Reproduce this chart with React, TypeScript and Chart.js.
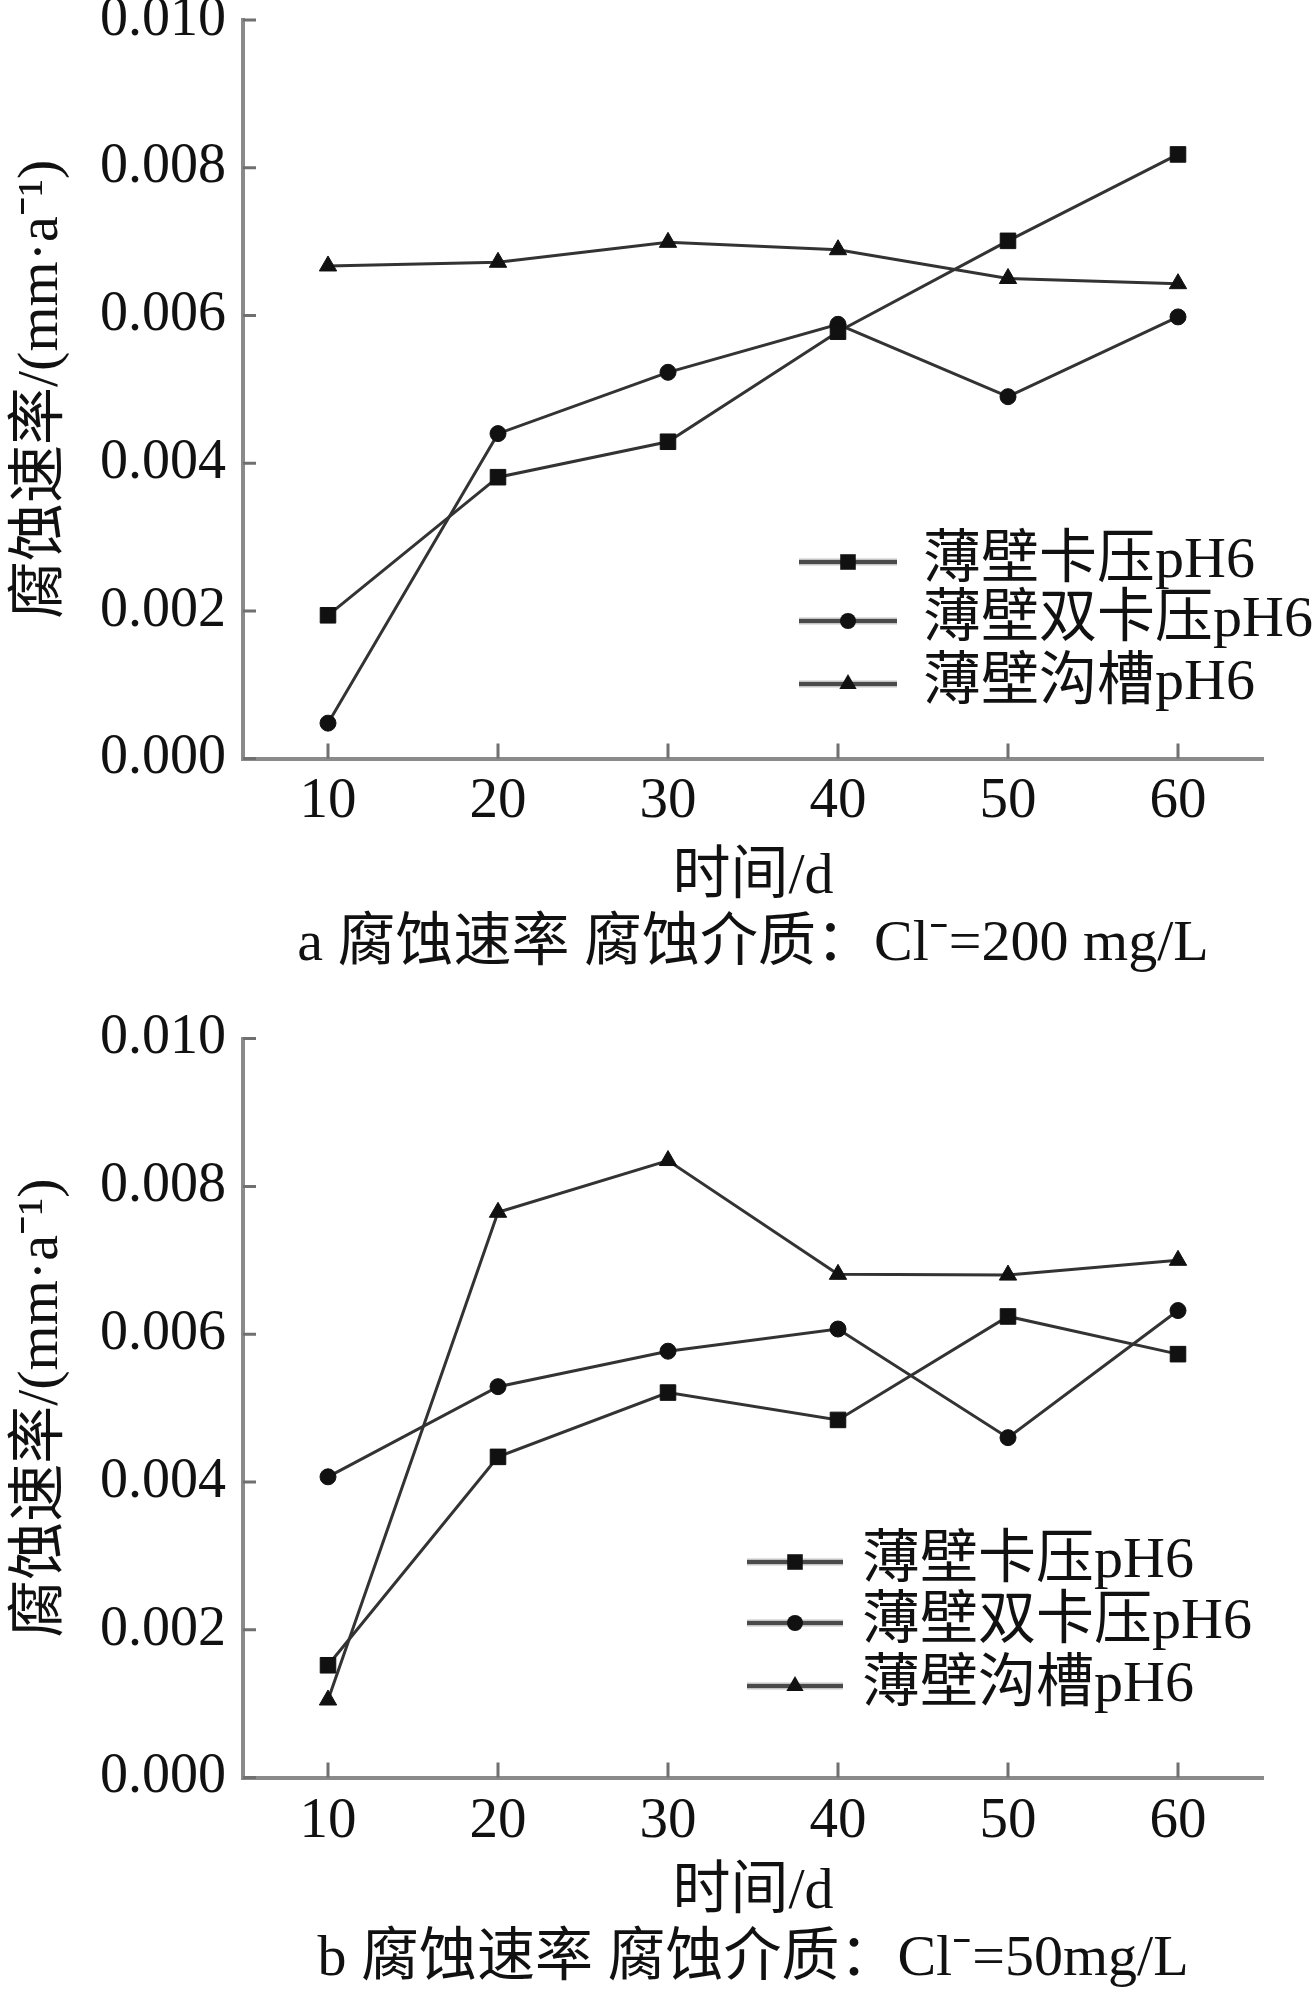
import React, { useEffect, useRef, useState } from "react";
import { Chart, registerables } from "chart.js";

Chart.register(...registerables);

// ---------------- data ----------------
const DAYS = [10, 20, 30, 40, 50, 60];
const X_TICKS = [10, 20, 30, 40, 50, 60];
const Y_TICKS = [0, 0.002, 0.004, 0.006, 0.008, 0.01];
const SERIES_NAMES = ["薄壁卡压pH6", "薄壁双卡压pH6", "薄壁沟槽pH6"];
const POINT_STYLES = ["rect", "circle", "triangle"];

// (a) Cl- = 200 mg/L
const A_KAYA = [0.00194, 0.00381, 0.00429, 0.00578, 0.00701, 0.00818];
const A_SHUANG = [0.00048, 0.0044, 0.00523, 0.00588, 0.0049, 0.00598];
const A_GOUCAO = [0.00667, 0.00672, 0.00699, 0.00689, 0.0065, 0.00643];

// (b) Cl- = 50 mg/L
const B_KAYA = [0.00152, 0.00434, 0.00521, 0.00484, 0.00624, 0.00573];
const B_SHUANG = [0.00407, 0.00529, 0.00577, 0.00607, 0.0046, 0.00632];
const B_GOUCAO = [0.00105, 0.00765, 0.00835, 0.00681, 0.0068, 0.007];

const Y_TITLE = "腐蚀速率/(mm·a⁻¹)";
const X_TITLE = "时间/d";
const CAPTION_A = "a 腐蚀速率 腐蚀介质：Cl⁻=200 mg/L";
const CAPTION_B = "b 腐蚀速率 腐蚀介质：Cl⁻=50mg/L";

// ---------------- styling ----------------
const FAMILY = '"Liberation Serif", "Noto Sans CJK SC", serif';
const TEXT = "#111111";
const AXIS = "#8a8a8a";
const LINE = "#333333";
const MARK = "#111111";
const RADII = [11, 8, 10];

const innerTicks = {
  id: "innerTicks",
  beforeDatasetsDraw(chart: any) {
    const { ctx, chartArea, scales } = chart;
    ctx.save();
    ctx.strokeStyle = "#707070";
    ctx.lineWidth = 3;
    ctx.beginPath();
    for (const v of X_TICKS) {
      const px = scales.x.getPixelForValue(v);
      ctx.moveTo(px, chartArea.bottom);
      ctx.lineTo(px, chartArea.bottom - 15);
    }
    for (const v of Y_TICKS) {
      const py = scales.y.getPixelForValue(v);
      ctx.moveTo(chartArea.left, py);
      ctx.lineTo(chartArea.left + 13, py);
    }
    ctx.stroke();
    ctx.restore();
  },
};

function drawMarker(ctx: CanvasRenderingContext2D, style: string, x: number, y: number, r: number) {
  ctx.beginPath();
  if (style === "rect") {
    const s = r * Math.SQRT1_2;
    ctx.rect(x - s, y - s, 2 * s, 2 * s);
  } else if (style === "circle") {
    ctx.arc(x, y, r, 0, Math.PI * 2);
  } else {
    const a = (2 * Math.PI) / 3;
    ctx.moveTo(x, y - r);
    ctx.lineTo(x + Math.sin(a) * r, y - Math.cos(a) * r);
    ctx.lineTo(x + Math.sin(2 * a) * r, y - Math.cos(2 * a) * r);
    ctx.closePath();
  }
  ctx.fill();
}

type LegendCfg = { x1: number; x2: number; textX: number; rows: number[] };

function makeLegendPlugin(lg: LegendCfg) {
  return {
    id: "customLegend",
    afterDraw(chart: any) {
      const { ctx } = chart;
      ctx.save();
      chart.data.datasets.forEach((ds: any, i: number) => {
        const y = lg.rows[i];
        ctx.lineCap = "butt";
        ctx.strokeStyle = "#c4c4c4";
        ctx.lineWidth = 7;
        ctx.beginPath();
        ctx.moveTo(lg.x1, y);
        ctx.lineTo(lg.x2, y);
        ctx.stroke();
        ctx.strokeStyle = "#4a4a4a";
        ctx.lineWidth = 4;
        ctx.beginPath();
        ctx.moveTo(lg.x1, y);
        ctx.lineTo(lg.x2, y);
        ctx.stroke();
        ctx.fillStyle = MARK;
        drawMarker(ctx, POINT_STYLES[i], (lg.x1 + lg.x2) / 2, y, RADII[i]);
        ctx.fillStyle = TEXT;
        ctx.font = `58px ${FAMILY}`;
        ctx.textAlign = "left";
        ctx.textBaseline = "middle";
        ctx.fillText(ds.label, lg.textX, y);
      });
      ctx.restore();
    },
  };
}

type Cfg = {
  top: number;
  height: number;
  padTop: number;
  padBottom: number;
  xAxisHeight: number;
  xTickPad: number;
  captionPad: number;
  caption: string;
  series: number[][];
  legend: LegendCfg;
};

const CHART_A: Cfg = {
  top: 0,
  height: 995,
  padTop: 20,
  padBottom: 21,
  xAxisHeight: 148.4,
  xTickPad: 15,
  captionPad: 9,
  caption: CAPTION_A,
  series: [A_KAYA, A_SHUANG, A_GOUCAO],
  legend: { x1: 799, x2: 897, textX: 923, rows: [562, 621, 684] },
};

const CHART_B: Cfg = {
  top: 995,
  height: 994,
  padTop: 43.6,
  padBottom: 0,
  xAxisHeight: 144.4,
  xTickPad: 16,
  captionPad: 9,
  caption: CAPTION_B,
  series: [B_KAYA, B_SHUANG, B_GOUCAO],
  legend: { x1: 747, x2: 843, textX: 862, rows: [567, 628, 691] },
};

function CorrosionChart({ cfg }: { cfg: Cfg }) {
  const ref = useRef<HTMLCanvasElement>(null);
  const [err, setErr] = useState("");
  useEffect(() => {
    if (!ref.current) return;
    let chart: any = null;
    try {
      const datasets = cfg.series.map((vals, i) => ({
        label: SERIES_NAMES[i],
        data: DAYS.map((d, j) => ({ x: d, y: vals[j] })),
        borderColor: LINE,
        borderWidth: 3,
        pointStyle: POINT_STYLES[i],
        pointRadius: RADII[i],
        pointBackgroundColor: MARK,
        pointBorderColor: MARK,
        pointBorderWidth: 1,
        tension: 0,
        fill: false,
      }));
      chart = new Chart(ref.current, {
        type: "line",
        data: { datasets },
        plugins: [innerTicks, makeLegendPlugin(cfg.legend)],
        options: {
          animation: false,
          responsive: false,
          devicePixelRatio: 1,
          layout: { padding: { top: cfg.padTop, left: 0, right: 50, bottom: cfg.padBottom } },
          scales: {
            x: {
              type: "linear",
              min: 5,
              max: 65,
              afterBuildTicks: (s: any) => {
                s.ticks = X_TICKS.map((v) => ({ value: v }));
              },
              afterFit: (s: any) => {
                s.height = cfg.xAxisHeight;
                s.paddingLeft = 0;
                s.paddingRight = 0;
              },
              grid: { display: true, drawOnChartArea: false, drawTicks: false },
              border: { display: true, color: AXIS, width: 4 },
              ticks: {
                font: { family: FAMILY, size: 57, lineHeight: 1 },
                color: TEXT,
                padding: cfg.xTickPad,
                maxRotation: 0,
                autoSkip: false,
                callback: (v: any) => String(v),
              },
              title: {
                display: true,
                text: X_TITLE,
                font: { family: FAMILY, size: 58, lineHeight: 1 },
                color: TEXT,
                padding: { top: 0, bottom: 0 },
              },
            },
            y: {
              type: "linear",
              min: 0,
              max: 0.01,
              afterBuildTicks: (s: any) => {
                s.ticks = Y_TICKS.map((v) => ({ value: v }));
              },
              afterFit: (s: any) => {
                s.width = 243;
                s.paddingTop = 0;
                s.paddingBottom = 0;
              },
              grid: { display: true, drawOnChartArea: false, drawTicks: false },
              border: { display: true, color: AXIS, width: 4 },
              ticks: {
                font: { family: FAMILY, size: 56, lineHeight: 1 },
                color: TEXT,
                padding: 17,
                autoSkip: false,
                callback: (v: any) => Number(v).toFixed(3),
              },
              title: {
                display: true,
                text: Y_TITLE,
                font: { family: FAMILY, size: 58, lineHeight: 1 },
                color: TEXT,
                padding: { top: 13, bottom: 0 },
              },
            },
          },
          plugins: {
            legend: { display: false },
            tooltip: { enabled: false },
            title: {
              display: true,
              position: "bottom",
              fullSize: false,
              text: cfg.caption,
              font: { family: FAMILY, size: 58, lineHeight: 1, weight: "normal" },
              color: TEXT,
              padding: { top: cfg.captionPad, bottom: 0 },
            },
          },
        },
      } as any);
    } catch (e: any) {
      setErr(String(e && e.stack ? e.stack : e));
    }
    return () => {
      if (chart) chart.destroy();
    };
  }, [cfg]);
  return (
    <>
      <canvas
        ref={ref}
        width={1313}
        height={cfg.height}
        style={{ position: "absolute", left: 0, top: cfg.top, width: 1313, height: cfg.height, display: "block" }}
      />
      {err ? (
        <pre style={{ position: "absolute", left: 0, top: cfg.top, fontSize: 14, color: "red", whiteSpace: "pre-wrap" }}>{err}</pre>
      ) : null}
    </>
  );
}

export default function App() {
  return (
    <div>
      <CorrosionChart cfg={CHART_A} />
      <CorrosionChart cfg={CHART_B} />
    </div>
  );
}
